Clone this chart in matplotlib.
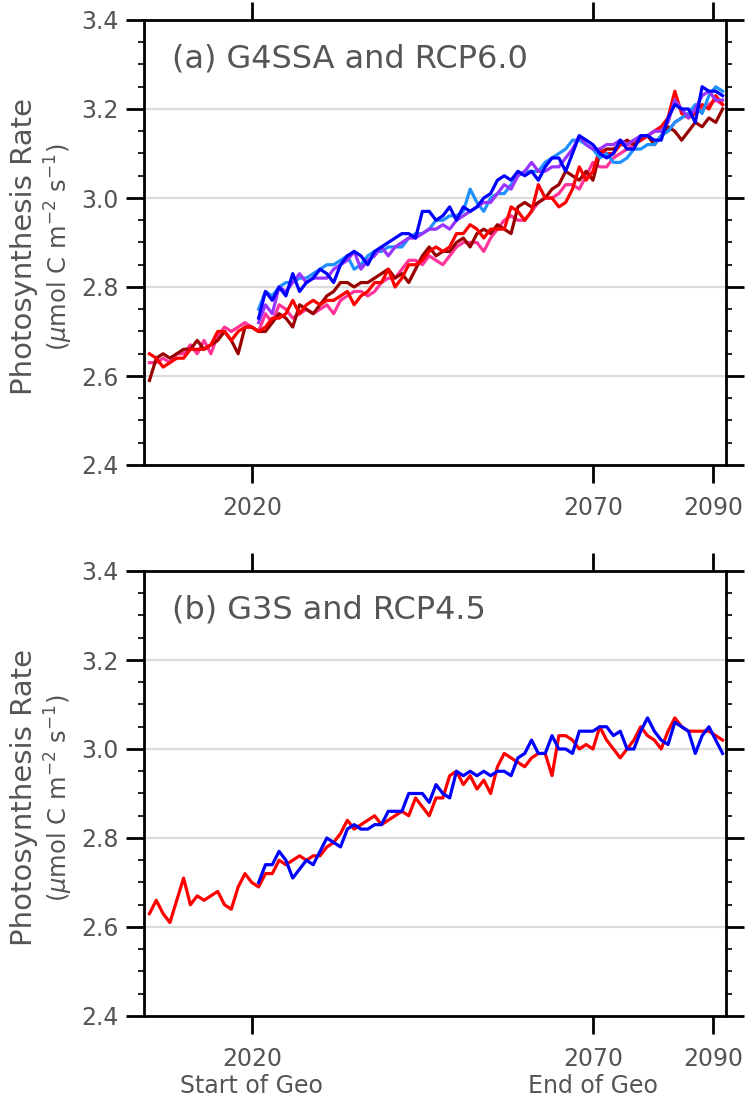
import matplotlib
matplotlib.use("Agg")
import matplotlib.pyplot as plt
from matplotlib.ticker import MultipleLocator

# ---------------------------------------------------------------------------
# Data (annual mean photosynthesis rate, umol C m-2 s-1)
# ---------------------------------------------------------------------------

years_rcp = list(range(2005, 2090))
years_geo = list(range(2021, 2090))

# panel (a): RCP6.0 ensemble members (2005-2089)
rcp60_red = [
    2.65, 2.64, 2.62, 2.63, 2.64, 2.64, 2.66, 2.66, 2.66, 2.67,
    2.70, 2.70, 2.68, 2.70, 2.71,
    2.71, 2.70, 2.71, 2.73, 2.73, 2.74, 2.77, 2.74, 2.76, 2.77,
    2.76, 2.77, 2.77, 2.78, 2.79, 2.76, 2.78, 2.79, 2.81, 2.81,
    2.84, 2.80, 2.82, 2.85, 2.85, 2.86, 2.88, 2.89, 2.88, 2.89,
    2.92, 2.92, 2.94, 2.93, 2.91, 2.93, 2.93, 2.93, 2.98, 2.97,
    2.95, 2.97, 3.03, 3.00, 3.00, 2.98, 2.99, 3.02, 3.07, 3.04,
    3.06, 3.11, 3.10,
    3.10, 3.12, 3.12, 3.13, 3.13, 3.14, 3.15, 3.16, 3.18, 3.24,
    3.19, 3.18, 3.19, 3.21, 3.20, 3.23, 3.21,
]
rcp60_darkred = [
    2.59, 2.64, 2.65, 2.64, 2.65, 2.66, 2.66, 2.68, 2.66, 2.67,
    2.68, 2.70, 2.68, 2.65, 2.71,
    2.71, 2.70, 2.70, 2.72, 2.74, 2.73, 2.71, 2.76, 2.75, 2.74,
    2.76, 2.78, 2.79, 2.81, 2.81, 2.80, 2.81, 2.81, 2.82, 2.83,
    2.84, 2.82, 2.83, 2.81, 2.84, 2.87, 2.89, 2.87, 2.88, 2.88,
    2.90, 2.91, 2.89, 2.92, 2.93, 2.92, 2.94, 2.93, 2.92, 2.98,
    2.99, 2.98, 2.99, 3.00, 3.02, 3.03, 3.06, 3.05, 3.04, 3.06,
    3.04, 3.10, 3.11,
    3.11, 3.12, 3.13, 3.12, 3.13, 3.14, 3.12, 3.14, 3.16, 3.15,
    3.13, 3.15, 3.17, 3.16, 3.18, 3.17, 3.20,
]
rcp60_pink = [
    2.63, 2.63, 2.64, 2.63, 2.65, 2.65, 2.67, 2.65, 2.68, 2.65,
    2.69, 2.71, 2.70, 2.71, 2.72,
    2.71, 2.70, 2.74, 2.72, 2.76, 2.75, 2.73, 2.74, 2.75, 2.74,
    2.75, 2.76, 2.74, 2.77, 2.78, 2.79, 2.79, 2.78, 2.79, 2.81,
    2.82, 2.82, 2.84, 2.86, 2.86, 2.85, 2.87, 2.86, 2.85, 2.87,
    2.89, 2.90, 2.90, 2.90, 2.88, 2.91, 2.93, 2.95, 2.96, 2.95,
    2.95, 2.97, 2.99, 3.00, 3.00, 3.01, 3.03, 3.03, 3.02, 3.05,
    3.08, 3.07, 3.07,
    3.09, 3.10, 3.11, 3.12, 3.13, 3.14, 3.15, 3.16, 3.15, 3.17,
    3.18, 3.19, 3.19, 3.20, 3.21, 3.22, 3.21,
]

# panel (a): G4SSA ensemble members (2021-2089)
g4_blue = [
    2.73, 2.79, 2.77, 2.80, 2.78, 2.83, 2.79, 2.81, 2.82, 2.84,
    2.83, 2.81, 2.85, 2.87, 2.88, 2.87, 2.85, 2.88, 2.89, 2.90,
    2.91, 2.92, 2.92, 2.91, 2.97, 2.97, 2.95, 2.96, 2.98, 2.95,
    2.98, 2.97, 2.98, 3.00, 3.01, 3.04, 3.05, 3.04, 3.06, 3.05,
    3.06, 3.04, 3.07, 3.09, 3.09, 3.06, 3.10, 3.14, 3.13, 3.12,
    3.10, 3.09,
    3.10, 3.13, 3.11, 3.11, 3.14, 3.14, 3.13, 3.13, 3.18, 3.21,
    3.20, 3.20, 3.17, 3.25, 3.24, 3.24, 3.23,
]
g4_lightblue = [
    2.75, 2.79, 2.78, 2.80, 2.81, 2.81, 2.82, 2.82, 2.83, 2.84,
    2.85, 2.85, 2.86, 2.87, 2.84, 2.85, 2.87, 2.88, 2.88, 2.89,
    2.89, 2.89, 2.91, 2.92, 2.92, 2.93, 2.95, 2.95, 2.96, 2.96,
    2.97, 3.02, 2.99, 2.97, 3.00, 3.01, 3.01, 3.03, 3.05, 3.06,
    3.06, 3.06, 3.08, 3.09, 3.10, 3.11, 3.13, 3.13, 3.12, 3.11,
    3.09, 3.10,
    3.08, 3.08, 3.09, 3.11, 3.11, 3.12, 3.12, 3.14, 3.15, 3.17,
    3.18, 3.19, 3.21, 3.19, 3.23, 3.25, 3.24,
]
g4_purple = [
    2.72, 2.76, 2.74, 2.80, 2.79, 2.81, 2.83, 2.81, 2.82, 2.82,
    2.82, 2.84, 2.85, 2.86, 2.88, 2.84, 2.86, 2.87, 2.89, 2.87,
    2.89, 2.90, 2.91, 2.91, 2.92, 2.93, 2.93, 2.94, 2.93, 2.95,
    2.96, 2.97, 2.98, 2.99, 2.99, 3.01, 3.03, 3.02, 3.05, 3.06,
    3.08, 3.06, 3.06, 3.07, 3.07, 3.09, 3.11, 3.14, 3.12, 3.11,
    3.11, 3.12,
    3.12, 3.13, 3.12, 3.13, 3.14, 3.14, 3.15, 3.15, 3.17, 3.22,
    3.20, 3.18, 3.20, 3.23, 3.24, 3.22, 3.22,
]

# panel (b): RCP4.5 (2005-2089) and G3S (2021-2089)
rcp45 = [
    2.63, 2.66, 2.63, 2.61, 2.66, 2.71, 2.65, 2.67, 2.66, 2.67,
    2.68, 2.65, 2.64, 2.69, 2.72, 2.70, 2.69, 2.72, 2.72, 2.75,
    2.74, 2.75, 2.76, 2.75, 2.76, 2.76, 2.78, 2.79, 2.81, 2.84,
    2.82, 2.83, 2.84, 2.85, 2.83, 2.84, 2.85, 2.86, 2.85, 2.89,
    2.87, 2.85, 2.89, 2.89, 2.94, 2.95, 2.92, 2.94, 2.91, 2.93,
    2.90, 2.96, 2.99, 2.98, 2.97, 2.96, 2.98, 2.99, 2.99, 2.94,
    3.03, 3.03, 3.02, 3.00, 3.01, 3.00, 3.05, 3.02, 3.00, 2.98,
    3.00, 3.02, 3.05, 3.03, 3.02, 3.00, 3.04, 3.07, 3.05, 3.04,
    3.04, 3.04, 3.04, 3.03, 3.02,
]
g3s = [
    2.70, 2.74, 2.74, 2.77, 2.75, 2.71, 2.73, 2.75, 2.74, 2.77,
    2.80, 2.79, 2.78, 2.82, 2.83, 2.82, 2.82, 2.83, 2.83, 2.86,
    2.86, 2.86, 2.90, 2.90, 2.90, 2.88, 2.92, 2.90, 2.89, 2.95,
    2.94, 2.95, 2.94, 2.95, 2.94, 2.95, 2.95, 2.94, 2.98, 2.99,
    3.02, 2.99, 2.99, 3.03, 3.00, 3.00, 2.99, 3.04, 3.04, 3.04,
    3.05, 3.05, 3.03, 3.04, 3.00, 3.00, 3.04, 3.07, 3.04, 3.02,
    3.01, 3.06, 3.05, 3.04, 2.99, 3.03, 3.05, 3.02, 2.99,
]

titles = ["(a) G4SSA and RCP6.0", "(b) G3S and RCP4.5"]
xtick_labels_a = ["2020", "2070", "2090"]
xtick_labels_b = ["2020\nStart of Geo", "2070\nEnd of Geo", "2090"]

# ---------------------------------------------------------------------------
# Style
# ---------------------------------------------------------------------------

TEXT = "#555555"
LW = 2.3
XTICK_POS = [2020, 2070, 2087.6]

plt.rcParams.update({"font.family": "DejaVu Sans"})


def _style_axis(ax, title, xlabels):
    ax.set_xlim(2004.2, 2089.5)
    ax.set_ylim(2.4, 3.4)
    ax.yaxis.set_major_locator(MultipleLocator(0.2))
    ax.yaxis.set_minor_locator(MultipleLocator(0.05))
    ax.set_yticklabels([f"{v:.1f}" for v in ax.get_yticks()])
    ax.set_xticks(XTICK_POS)
    ax.set_xticklabels(xlabels)

    for y in (2.6, 2.8, 3.0, 3.2):
        ax.axhline(y, color="#dcdcdc", lw=1.6, zorder=0)

    for sp in ax.spines.values():
        sp.set_linewidth(2.0)
    ax.tick_params(axis="x", which="major", direction="out", length=13,
                   width=2.0, top=True, labelsize=17, labelcolor=TEXT, pad=9)
    ax.tick_params(axis="y", which="major", direction="out", length=13,
                   width=2.0, right=True, labelsize=17, labelcolor=TEXT, pad=5)
    ax.tick_params(axis="y", which="minor", direction="out", length=4,
                   width=1.2, right=True)

    ax.text(0.048, 0.912, title, transform=ax.transAxes, fontsize=23,
            color=TEXT, va="center", ha="left")
    ax.text(-0.207, 0.49, "Photosynthesis Rate", transform=ax.transAxes,
            rotation=90, fontsize=21, color=TEXT, va="center", ha="center")
    ax.text(-0.146, 0.49, r"($\mu$mol C m$^{-2}$ s$^{-1}$)",
            transform=ax.transAxes, rotation=90, fontsize=17.5, color=TEXT,
            va="center", ha="center")


fig = plt.figure(figsize=(7.48, 11.01), dpi=100)
ax_a = fig.add_axes([144 / 748, 1 - 465 / 1101, 582 / 748, 445 / 1101])
ax_b = fig.add_axes([144 / 748, 1 - 1016 / 1101, 582 / 748, 445 / 1101])

# panel (a)
ax_a.plot(years_rcp, rcp60_pink, color="#ff3399", lw=LW)
ax_a.plot(years_rcp, rcp60_darkred, color="#990000", lw=LW)
ax_a.plot(years_rcp, rcp60_red, color="#ff0000", lw=LW)
ax_a.plot(years_geo, g4_lightblue, color="#1e90ff", lw=LW)
ax_a.plot(years_geo, g4_purple, color="#9933ff", lw=LW)
ax_a.plot(years_geo, g4_blue, color="#0000ff", lw=LW)
_style_axis(ax_a, titles[0], xtick_labels_a)

# panel (b)
ax_b.plot(years_rcp, rcp45, color="#ff0000", lw=LW)
ax_b.plot(years_geo, g3s, color="#0000ff", lw=LW)
_style_axis(ax_b, titles[1], xtick_labels_b)

fig.savefig("out.png", dpi=100)
